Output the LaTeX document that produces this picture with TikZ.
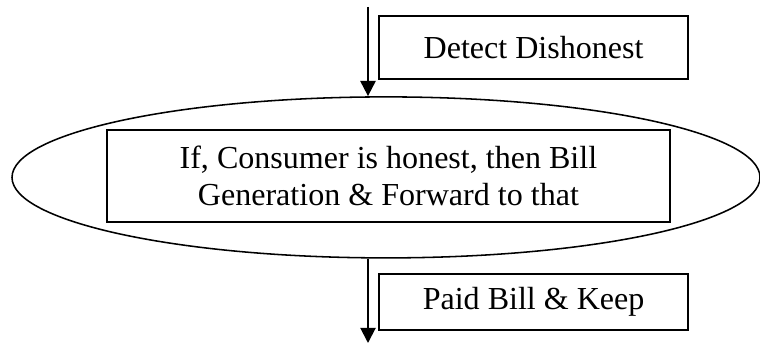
\documentclass[tikz,border=0pt]{standalone}
\usepackage{fontspec}
\setmainfont{Liberation Serif}
\usetikzlibrary{arrows.meta, shapes.geometric, positioning}
\begin{document}
\begin{tikzpicture}[
    scale=1.0,
    stepbox/.style={draw, line width=1.3pt, minimum width=7.725cm, inner sep=0pt,
                    font=\fontsize{22.8}{26.5}\selectfont},
    checkring/.style={draw, ellipse, line width=1.1pt, minimum width=18.7cm,
                      minimum height=4.025cm, inner sep=0pt},
    flow/.style={draw, line width=1.4pt, -{Triangle[width=0.38cm, length=0.38cm]}}
]
  \useasboundingbox (0, 0) rectangle (19, 8.625);
  % --- detection step above the check ------------------------------------
  \coordinate (top) at (9.2, 8.45);
  \node[stepbox, minimum height=1.575cm] (detect) at (13.34, 7.44) {Detect Dishonest};
  % --- the check: a box inside a ring ------------------------------------
  \node[checkring] (check) at (9.65, 4.19) {};
  \node[stepbox, minimum width=14.075cm, minimum height=2.3cm, align=center]
    (bill) at (9.71, 4.225) {If, Consumer is honest, then Bill\\Generation \& Forward to that};
  % --- paid step below the check -----------------------------------------
  \node[stepbox, minimum height=1.4cm] (paid) at (13.34, 1.075) {Paid Bill \& Keep};
  \coordinate (bottom) at (9.2, 0.05);
  % --- connectors -----------------------------------------------------------
  \draw[flow] (top) -- (top |- check.north);
  \draw[flow] (bottom |- check.south) -- (bottom);
\end{tikzpicture}
\end{document}
